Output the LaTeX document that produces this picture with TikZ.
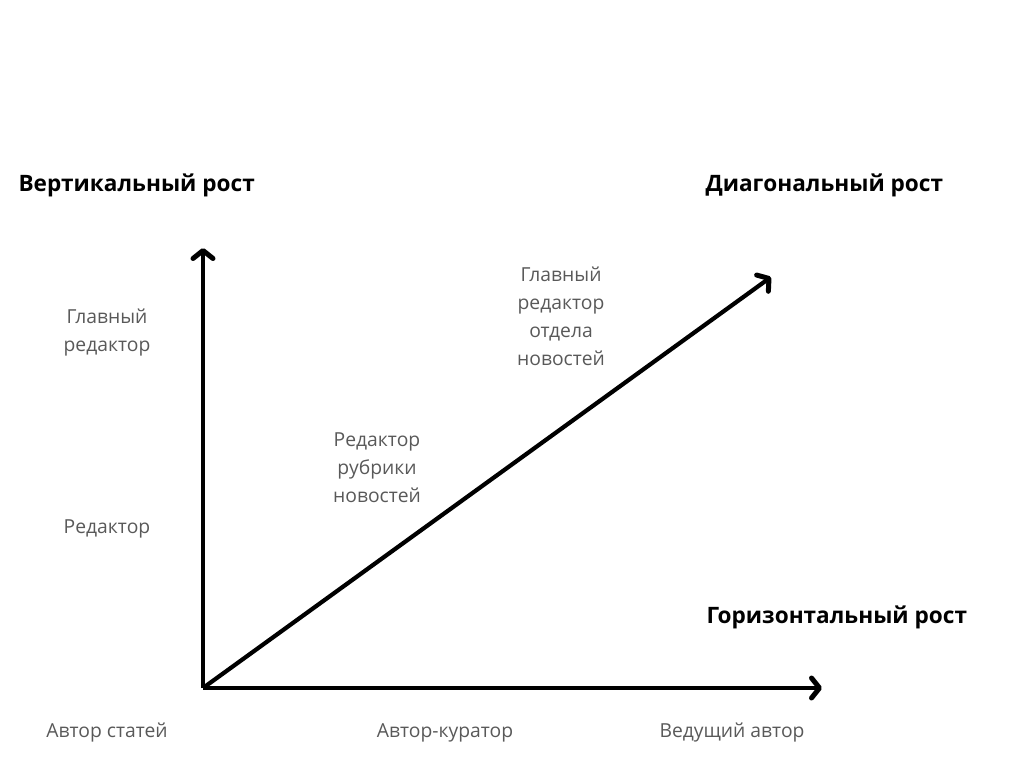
\documentclass[tikz,border=0pt]{standalone}
\usepackage{fontspec}
\setmainfont{Open Sans}
\usetikzlibrary{arrows.meta}

\begin{document}
\begin{tikzpicture}[x=1pt,y=-1pt,
		head/.style={anchor=west,font=\fontsize{22.6}{26}\selectfont\bfseries,text=black},
		lbl/.style={align=center,font=\fontsize{19.3}{28}\selectfont,text=black!65},
		axis/.style={line width=4.2pt,-{Straight Barb[length=8pt,width=20pt,line width=5pt,line cap=round,line join=round]}}]
	\useasboundingbox (0,0) rectangle (1024,768);
	%% define points
	\coordinate (o) at (203,688);
	\coordinate (ytop) at (203,248);
	\coordinate (xend) at (822,688);
	\coordinate (dend) at (771,277);
	%% headings
	\node (vert) at (15,185) [head] {Вертикальный рост};
	\node (diag) at (702,185) [head] {Диагональный рост};
	\node (horz) at (703,617) [head] {Горизонтальный рост};
	%% labels
	\node (chief) at (107,333) [lbl] {Главный\\редактор};
	\node (ed) at (107,529) [lbl] {Редактор};
	\node (rub) at (377,468) [lbl] {Редактор\\рубрики\\новостей};
	\node (dept) at (561,316) [lbl] {Главный\\редактор\\отдела\\новостей};
	\node (auth) at (107,733) [lbl] {Автор статей};
	\node (cur) at (445,733) [lbl] {Автор-куратор};
	\node (lead) at (732,733) [lbl] {Ведущий автор};
	%% define arrows
	\draw[axis] (o) -- (ytop);
	\draw[axis] (o) -- (xend);
	\draw[axis] (o) -- (dend);
\end{tikzpicture}
\end{document}
